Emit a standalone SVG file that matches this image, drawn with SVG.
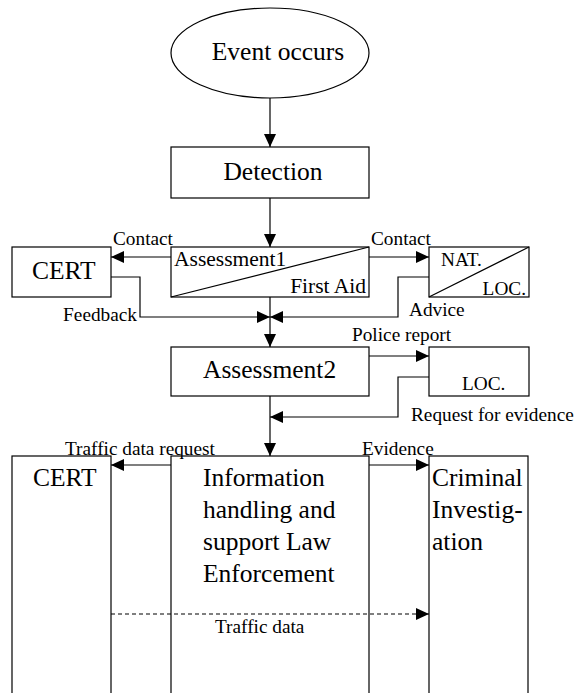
<svg xmlns="http://www.w3.org/2000/svg" width="577" height="693" viewBox="0 0 577 693">
  <style>
    .box { fill: #fff; stroke: #000; stroke-width: 1.2; }
    .line { fill: none; stroke: #000; stroke-width: 1.2; }
    .dash { fill: none; stroke: #000; stroke-width: 1.2; stroke-dasharray: 4 3; }
    text { font-family: "Liberation Serif", "Times New Roman", serif; fill: #000; }
    .big { font-size: 25.5px; }
    .mid { font-size: 21.5px; }
    .small { font-size: 19.3px; }
  </style>
  <defs>
    <marker id="arrow" markerUnits="userSpaceOnUse" markerWidth="13" markerHeight="12" refX="13" refY="6" orient="auto">
      <path d="M0,0 L13,6 L0,12 z" fill="#000"/>
    </marker>
  </defs>

  <rect width="577" height="693" fill="#fff"/>

  <g id="event">
    <ellipse class="box" cx="270" cy="53" rx="99" ry="45"/>
    <text class="big" x="278" y="60" text-anchor="middle">Event occurs</text>
  </g>

  <g id="detection">
    <rect class="box" x="171" y="147" width="198" height="51"/>
    <text class="big" x="273" y="180" text-anchor="middle">Detection</text>
  </g>

  <g id="assessment1">
    <rect class="box" x="171" y="247" width="198" height="50"/>
    <line class="line" x1="171" y1="297" x2="369" y2="247"/>
    <text class="mid" x="174" y="266">Assessment1</text>
    <text class="mid" x="366" y="293" text-anchor="end">First Aid</text>
  </g>

  <g id="cert-top">
    <rect class="box" x="12" y="247" width="99" height="50"/>
    <text class="big" x="32" y="279">CERT</text>
  </g>

  <g id="nat-loc">
    <rect class="box" x="429" y="247" width="100" height="50"/>
    <line class="line" x1="429" y1="297" x2="529" y2="247"/>
    <text class="small" x="441" y="266">NAT.</text>
    <text class="small" x="526" y="295" text-anchor="end">LOC.</text>
  </g>

  <g id="assessment2">
    <rect class="box" x="171" y="347" width="198" height="49"/>
    <text class="big" x="203" y="378">Assessment2</text>
  </g>

  <g id="loc">
    <rect class="box" x="429" y="347" width="100" height="49"/>
    <text class="small" x="462" y="390">LOC.</text>
  </g>

  <g id="cert-bottom">
    <rect class="box" x="12" y="456" width="99" height="260"/>
    <text class="big" x="33" y="486">CERT</text>
  </g>

  <g id="information">
    <rect class="box" x="171" y="456" width="198" height="260"/>
    <text class="big" x="203" y="486">Information</text>
    <text class="big" x="203" y="518">handling and</text>
    <text class="big" x="203" y="550">support Law</text>
    <text class="big" x="203" y="582">Enforcement</text>
  </g>

  <g id="criminal">
    <rect class="box" x="429" y="456" width="99" height="260"/>
    <text class="big" x="432" y="486">Criminal</text>
    <text class="big" x="432" y="518">Investig-</text>
    <text class="big" x="432" y="550">ation</text>
  </g>

  <!-- connectors, drawn over the boxes so the dashed line crosses them -->
  <g id="connectors">
    <line class="line" x1="270" y1="98" x2="270" y2="147" marker-end="url(#arrow)"/>
    <line class="line" x1="270" y1="198" x2="270" y2="247" marker-end="url(#arrow)"/>
    <line class="line" x1="171" y1="257" x2="111" y2="257" marker-end="url(#arrow)"/>
    <line class="line" x1="369" y1="257" x2="429" y2="257" marker-end="url(#arrow)"/>
    <polyline class="line" points="111,277 140,277 140,317 270,317" marker-end="url(#arrow)"/>
    <polyline class="line" points="429,277 398,277 398,317 270,317" marker-end="url(#arrow)"/>
    <line class="line" x1="270" y1="297" x2="270" y2="347" marker-end="url(#arrow)"/>
    <line class="line" x1="369" y1="356" x2="429" y2="356" marker-end="url(#arrow)"/>
    <polyline class="line" points="429,377 398,377 398,417 270,417" marker-end="url(#arrow)"/>
    <line class="line" x1="270" y1="396" x2="270" y2="456" marker-end="url(#arrow)"/>
    <line class="line" x1="171" y1="465" x2="111" y2="465" marker-end="url(#arrow)"/>
    <line class="line" x1="369" y1="465" x2="429" y2="465" marker-end="url(#arrow)"/>
    <line class="dash" x1="111" y1="614" x2="429" y2="614" marker-end="url(#arrow)"/>

    <text class="small" x="113" y="245">Contact</text>
    <text class="small" x="371" y="245">Contact</text>
    <text class="small" x="137" y="321" text-anchor="end">Feedback</text>
    <text class="small" x="409" y="316">Advice</text>
    <text class="small" x="352" y="341">Police report</text>
    <text class="small" x="411" y="421">Request for evidence</text>
    <text class="small" x="65" y="455">Traffic data request</text>
    <text class="small" x="362" y="455">Evidence</text>
    <text class="small" x="215" y="633">Traffic data</text>
  </g>
</svg>
